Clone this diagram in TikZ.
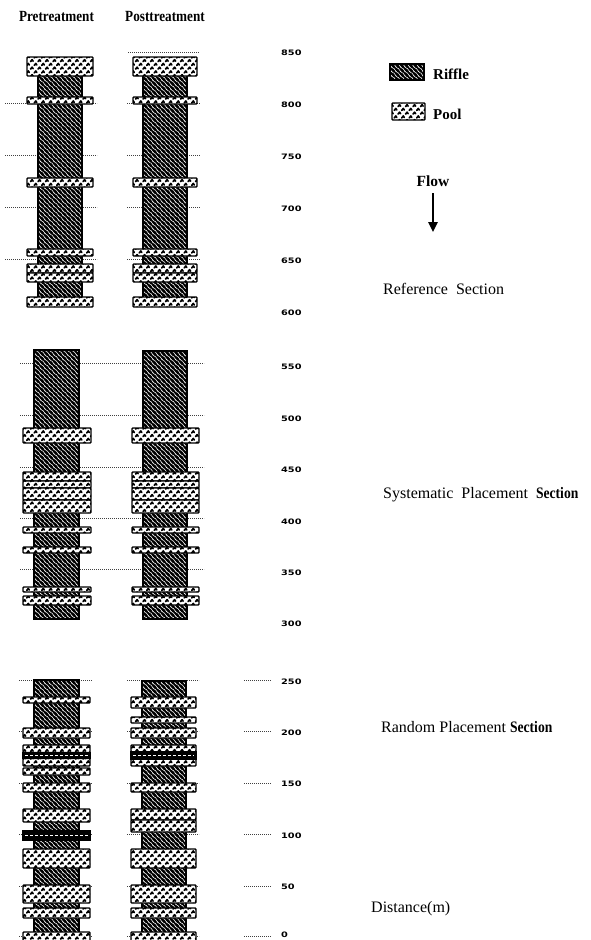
\documentclass[tikz,border=0pt]{standalone}
\usepackage{fontspec}
\usepackage{graphicx}
\setmainfont{Liberation Serif}
\newfontfamily\tickfont{DejaVu Sans}
\usetikzlibrary{patterns,arrows.meta}

\pgfdeclarepatternformonly{riffpat}{\pgfqpoint{-1pt}{-1pt}}{\pgfqpoint{5.5pt}{5.5pt}}{\pgfqpoint{4.5pt}{4.5pt}}{%
  \pgfsetlinewidth{0.55pt}%
  \pgfpathmoveto{\pgfqpoint{-0.5pt}{5pt}}%
  \pgfpathlineto{\pgfqpoint{1.6pt}{3.2pt}}%
  \pgfpathlineto{\pgfqpoint{2.4pt}{3.0pt}}%
  \pgfpathlineto{\pgfqpoint{5pt}{-0.5pt}}%
  \pgfusepath{stroke}}

\pgfdeclarepatternformonly{poolpat}{\pgfqpoint{-1pt}{-1pt}}{\pgfqpoint{8.5pt}{8.5pt}}{\pgfqpoint{7.5pt}{7.5pt}}{%
  \pgfsetlinewidth{1.7pt}\pgfsetroundcap\pgfsetroundjoin%
  \pgfpathmoveto{\pgfqpoint{0.6pt}{0.9pt}}\pgfpathlineto{\pgfqpoint{2.1pt}{2.8pt}}\pgfpathlineto{\pgfqpoint{3.1pt}{1.3pt}}%
  \pgfpathmoveto{\pgfqpoint{4.3pt}{4.6pt}}\pgfpathlineto{\pgfqpoint{5.8pt}{6.5pt}}\pgfpathlineto{\pgfqpoint{6.8pt}{5.0pt}}%
  \pgfusepath{stroke}}

\newcommand\strcol[7]{%
  \draw[riffle] (#1,#5) rectangle (#2,#6);
  \foreach \ya/\yb in {#7}{\draw[pool] (#3,\ya) rectangle (#4,\yb);}}
\newcommand\bandrow[4]{%
  \draw[band] (#1,#3) rectangle (#2,#4);
  \draw[white, dash pattern=on 3pt off 2pt, line width=0.9pt] (#1+2,{(#3+#4)/2}) -- (#2-2,{(#3+#4)/2});}
\newcommand\tk[1]{\scalebox{1.3}[1]{#1}}
\newcommand\cnd[1]{\scalebox{0.85}[1]{#1}}

\begin{document}
\begin{tikzpicture}[x=1pt,y=-1pt,
  riffle/.style={draw=black, line width=1.2pt, preaction={fill=black}, pattern=riffpat, pattern color=white},
  pool/.style={draw=black, line width=1.4pt, rounded corners=0.8pt, preaction={fill=white}, pattern=poolpat, pattern color=black},
  band/.style={draw=black, line width=1.4pt, fill=black},
  tick/.style={dash pattern=on 0.9pt off 1.1pt, line width=0.6pt, black!75},
  ticklab/.style={anchor=west, inner sep=0pt, font=\tickfont\bfseries\fontsize{7.5}{8}\selectfont},
  hdr/.style={anchor=base, inner sep=0pt, font=\bfseries\fontsize{15.5}{18}\selectfont},
  leg/.style={anchor=base west, inner sep=0pt, font=\bfseries\fontsize{15}{18}\selectfont},
  seclab/.style={anchor=base west, inner sep=0pt, font=\fontsize{16}{19}\selectfont}]
\useasboundingbox (0,0) rectangle (590,940);

% headers
\node[hdr] (pre) at (56.5,21) {\cnd{Pretreatment}};
\node[hdr] (post) at (165,21) {\cnd{Posttreatment}};

% ---- Reference section
\foreach \y in {103,155,207,259} {\draw[tick] (5,\y) -- (97,\y); \draw[tick] (127,\y) -- (200,\y);}
\draw[tick] (128,52) -- (199,52);
\strcol{38}{82}{27}{93}{62}{304}{57/76,97/104,178/187,249/256,264/273,273/282,297/307}
\strcol{143}{187}{133}{197}{62}{304}{57/76,97/104,178/187,249/256,264/273,273/282,297/307}

% ---- Systematic section
\foreach \y in {363,415,467,518,569} {\draw[tick] (20,\y) -- (204,\y);}
\strcol{34}{79}{23}{91}{350}{619}{428/443,472/481,481/488,488/500,500/513,527/533,547/553,587/592,596/605}
\strcol{143}{187}{132}{199}{351}{619}{428/443,472/481,481/488,488/500,500/513,527/533,547/553,587/592,596/605}

% ---- Random section
\foreach \y in {680,731,783,834,886,936} {\draw[tick] (19,\y) -- (92,\y); \draw[tick] (127,\y) -- (199,\y); \draw[tick] (244,\y) -- (271,\y);}
\strcol{34}{79}{23}{90}{680}{945}{697/703,728/738,745/752.5,758.5/766,768/775,783/792,809/822,849/868,885/903,908/918,932/945}
\bandrow{23}{90}{752.5}{758.5}
\bandrow{23}{90}{831}{840}
\strcol{142}{186}{131}{196}{681}{945}{697/708,717/723,728/738,745/752,759/766,783/792,809/820,820/832,849/868,885/903,908/918,932/945}
\bandrow{131}{196}{752}{759}

% tick labels
\node[ticklab] (t850) at (281,53) {\tk{850}};
\node[ticklab] (t800) at (281,105) {\tk{800}};
\node[ticklab] (t750) at (281,157) {\tk{750}};
\node[ticklab] (t700) at (281,209) {\tk{700}};
\node[ticklab] (t650) at (281,261) {\tk{650}};
\node[ticklab] (t600) at (281,313) {\tk{600}};
\node[ticklab] (t550) at (281,367) {\tk{550}};
\node[ticklab] (t500) at (281,419) {\tk{500}};
\node[ticklab] (t450) at (281,470) {\tk{450}};
\node[ticklab] (t400) at (281,522) {\tk{400}};
\node[ticklab] (t350) at (281,573) {\tk{350}};
\node[ticklab] (t300) at (281,624) {\tk{300}};
\node[ticklab] (t250) at (281,682) {\tk{250}};
\node[ticklab] (t200) at (281,733) {\tk{200}};
\node[ticklab] (t150) at (281,784) {\tk{150}};
\node[ticklab] (t100) at (281,836) {\tk{100}};
\node[ticklab] (t50) at (281,887) {\tk{50}};
\node[ticklab] (t0) at (281,934.5) {\tk{0}};

% legend
\draw[riffle] (390,64) rectangle (424,80);
\node[leg] (lriffle) at (433,79) {Riffle};
\draw[pool] (392,103) rectangle (425,120);
\node[leg] (lpool) at (433,119) {Pool};

% flow
\node[hdr] (flow) at (433,186) {Flow};
\coordinate (fa) at (433,193);
\coordinate (fb) at (433,232);
\draw[line width=2.4pt, -{Triangle[length=10pt,width=9pt]}] (fa) -- (fb);

% section labels
\node[seclab] (refsec) at (383,294) {Reference\ \ Section};
\node[seclab] (syssec) at (383,498) {Systematic\ \ Placement\ \ \textbf{\cnd{Section}}};
\node[seclab] (ransec) at (381,732) {Random Placement \textbf{\cnd{Section}}};
\node[seclab] (dist) at (371,912) {Distance(m)};
\end{tikzpicture}
\end{document}
